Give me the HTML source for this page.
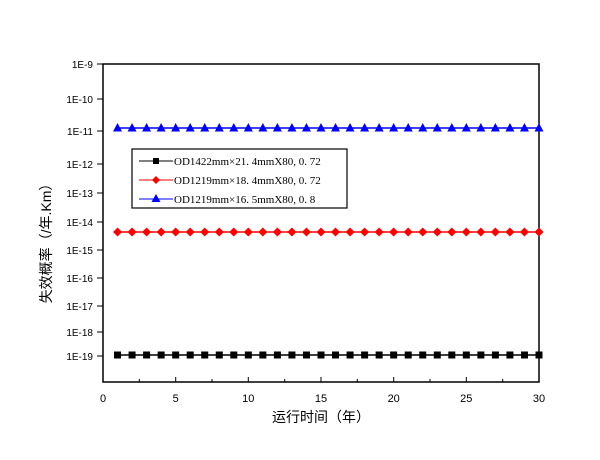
<!DOCTYPE html>
<html><head><meta charset="utf-8"><style>
html,body{margin:0;padding:0;background:#fff;}
svg{display:block;}
text{font-family:"Liberation Sans","Noto Sans CJK SC",sans-serif;}
.lg{font-family:"Liberation Serif","Noto Serif CJK SC",serif;}
</style></head><body>
<svg width="600" height="460" xmlns="http://www.w3.org/2000/svg">
<defs>
<rect id="sq" x="-3.5" y="-3.5" width="7" height="7" fill="#000"/>
<polygon id="di" points="0,-4.5 4.5,0 0,4.5 -4.5,0" fill="#f00"/>
<polygon id="tr" points="0,-5 4.5,3.5 -4.5,3.5" fill="#00f"/>
<g id="row">
<use href="#m" x="117.53"/><use href="#m" x="132.07"/><use href="#m" x="146.6"/><use href="#m" x="161.13"/><use href="#m" x="175.67"/>
<use href="#m" x="190.2"/><use href="#m" x="204.73"/><use href="#m" x="219.27"/><use href="#m" x="233.8"/><use href="#m" x="248.33"/>
<use href="#m" x="262.87"/><use href="#m" x="277.4"/><use href="#m" x="291.93"/><use href="#m" x="306.47"/><use href="#m" x="321"/>
<use href="#m" x="335.53"/><use href="#m" x="350.07"/><use href="#m" x="364.6"/><use href="#m" x="379.13"/><use href="#m" x="393.67"/>
<use href="#m" x="408.2"/><use href="#m" x="422.73"/><use href="#m" x="437.27"/><use href="#m" x="451.8"/><use href="#m" x="466.33"/>
<use href="#m" x="480.87"/><use href="#m" x="495.4"/><use href="#m" x="509.93"/><use href="#m" x="524.47"/><use href="#m" x="539"/>
</g>
</defs>
<rect width="600" height="460" fill="#fff"/>
<rect x="103" y="64" width="436" height="318" fill="none" stroke="#000" stroke-width="1.5"/>
<g font-size="10" text-anchor="end" fill="#000">
<text x="93" y="68">1E-9</text><line x1="97" y1="64" x2="103" y2="64" stroke="#000"/>
<text x="93" y="103">1E-10</text><line x1="97" y1="99" x2="103" y2="99" stroke="#000"/>
<text x="93" y="135">1E-11</text><line x1="97" y1="131" x2="103" y2="131" stroke="#000"/>
<text x="93" y="168">1E-12</text><line x1="97" y1="164" x2="103" y2="164" stroke="#000"/>
<text x="93" y="197">1E-13</text><line x1="97" y1="193" x2="103" y2="193" stroke="#000"/>
<text x="93" y="226">1E-14</text><line x1="97" y1="222" x2="103" y2="222" stroke="#000"/>
<text x="93" y="254">1E-15</text><line x1="97" y1="250" x2="103" y2="250" stroke="#000"/>
<text x="93" y="282">1E-16</text><line x1="97" y1="278" x2="103" y2="278" stroke="#000"/>
<text x="93" y="310">1E-17</text><line x1="97" y1="306" x2="103" y2="306" stroke="#000"/>
<text x="93" y="336">1E-18</text><line x1="97" y1="332" x2="103" y2="332" stroke="#000"/>
<text x="93" y="360">1E-19</text><line x1="97" y1="356" x2="103" y2="356" stroke="#000"/>
</g>
<g font-size="11" text-anchor="middle">
<text x="103" y="402">0</text><text x="175.7" y="402">5</text><text x="248.3" y="402">10</text>
<text x="321" y="402">15</text><text x="393.7" y="402">20</text><text x="466.3" y="402">25</text><text x="539" y="402">30</text>
</g>
<g stroke="#000" stroke-width="1">
<line x1="175.7" y1="382" x2="175.7" y2="377"/><line x1="248.3" y1="382" x2="248.3" y2="377"/>
<line x1="321" y1="382" x2="321" y2="377"/><line x1="393.7" y1="382" x2="393.7" y2="377"/>
<line x1="466.3" y1="382" x2="466.3" y2="377"/>
<line x1="139.3" y1="382" x2="139.3" y2="379"/><line x1="212" y1="382" x2="212" y2="379"/>
<line x1="284.7" y1="382" x2="284.7" y2="379"/><line x1="357.3" y1="382" x2="357.3" y2="379"/>
<line x1="430" y1="382" x2="430" y2="379"/><line x1="502.7" y1="382" x2="502.7" y2="379"/>
</g>
<text x="321" y="422" font-size="14" text-anchor="middle">运行时间（年）</text>
<text transform="translate(51,240) rotate(-90)" font-size="14" text-anchor="middle">失效概率（/年.Km）</text>

<line x1="117.5" y1="355" x2="539" y2="355" stroke="#000" stroke-width="1.5"/>
<line x1="117.5" y1="232" x2="539" y2="232" stroke="#f00" stroke-width="1.5"/>
<line x1="117.5" y1="128" x2="539" y2="128" stroke="#00f" stroke-width="1.5"/>
<g transform="translate(0,355)">
<use href="#sq" x="117.53"/><use href="#sq" x="132.07"/><use href="#sq" x="146.6"/><use href="#sq" x="161.13"/><use href="#sq" x="175.67"/>
<use href="#sq" x="190.2"/><use href="#sq" x="204.73"/><use href="#sq" x="219.27"/><use href="#sq" x="233.8"/><use href="#sq" x="248.33"/>
<use href="#sq" x="262.87"/><use href="#sq" x="277.4"/><use href="#sq" x="291.93"/><use href="#sq" x="306.47"/><use href="#sq" x="321"/>
<use href="#sq" x="335.53"/><use href="#sq" x="350.07"/><use href="#sq" x="364.6"/><use href="#sq" x="379.13"/><use href="#sq" x="393.67"/>
<use href="#sq" x="408.2"/><use href="#sq" x="422.73"/><use href="#sq" x="437.27"/><use href="#sq" x="451.8"/><use href="#sq" x="466.33"/>
<use href="#sq" x="480.87"/><use href="#sq" x="495.4"/><use href="#sq" x="509.93"/><use href="#sq" x="524.47"/><use href="#sq" x="539"/>
</g>
<g transform="translate(0,232)">
<use href="#di" x="117.53"/><use href="#di" x="132.07"/><use href="#di" x="146.6"/><use href="#di" x="161.13"/><use href="#di" x="175.67"/>
<use href="#di" x="190.2"/><use href="#di" x="204.73"/><use href="#di" x="219.27"/><use href="#di" x="233.8"/><use href="#di" x="248.33"/>
<use href="#di" x="262.87"/><use href="#di" x="277.4"/><use href="#di" x="291.93"/><use href="#di" x="306.47"/><use href="#di" x="321"/>
<use href="#di" x="335.53"/><use href="#di" x="350.07"/><use href="#di" x="364.6"/><use href="#di" x="379.13"/><use href="#di" x="393.67"/>
<use href="#di" x="408.2"/><use href="#di" x="422.73"/><use href="#di" x="437.27"/><use href="#di" x="451.8"/><use href="#di" x="466.33"/>
<use href="#di" x="480.87"/><use href="#di" x="495.4"/><use href="#di" x="509.93"/><use href="#di" x="524.47"/><use href="#di" x="539"/>
</g>
<g transform="translate(0,128)">
<use href="#tr" x="117.53"/><use href="#tr" x="132.07"/><use href="#tr" x="146.6"/><use href="#tr" x="161.13"/><use href="#tr" x="175.67"/>
<use href="#tr" x="190.2"/><use href="#tr" x="204.73"/><use href="#tr" x="219.27"/><use href="#tr" x="233.8"/><use href="#tr" x="248.33"/>
<use href="#tr" x="262.87"/><use href="#tr" x="277.4"/><use href="#tr" x="291.93"/><use href="#tr" x="306.47"/><use href="#tr" x="321"/>
<use href="#tr" x="335.53"/><use href="#tr" x="350.07"/><use href="#tr" x="364.6"/><use href="#tr" x="379.13"/><use href="#tr" x="393.67"/>
<use href="#tr" x="408.2"/><use href="#tr" x="422.73"/><use href="#tr" x="437.27"/><use href="#tr" x="451.8"/><use href="#tr" x="466.33"/>
<use href="#tr" x="480.87"/><use href="#tr" x="495.4"/><use href="#tr" x="509.93"/><use href="#tr" x="524.47"/><use href="#tr" x="539"/>
</g>

<rect x="132" y="149" width="215" height="59" fill="#fff" stroke="#000" stroke-width="1.2"/>
<line x1="139" y1="161" x2="173" y2="161" stroke="#000"/><rect x="153" y="158" width="6" height="6" fill="#000"/>
<line x1="139" y1="180" x2="173" y2="180" stroke="#f00"/><polygon points="156,176 160,180 156,184 152,180" fill="#f00"/>
<line x1="139" y1="199" x2="173" y2="199" stroke="#00f"/><polygon points="156,194 160.5,202 151.5,202" fill="#00f"/>
<g font-size="11" fill="#000">
<text class="lg" x="174" y="165">OD1422mm×21. 4mmX80, 0. 72</text>
<text class="lg" x="174" y="184">OD1219mm×18. 4mmX80, 0. 72</text>
<text class="lg" x="174" y="203">OD1219mm×16. 5mmX80, 0. 8</text>
</g>
</svg>
</body></html>
